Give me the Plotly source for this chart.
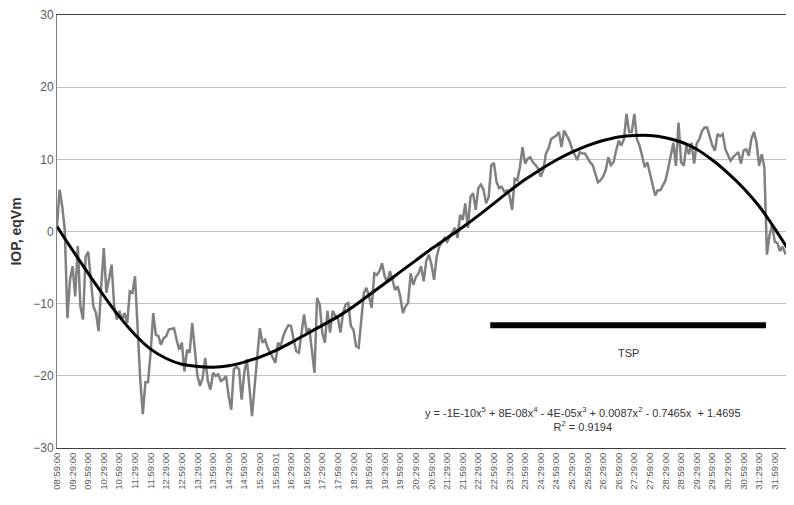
import plotly.graph_objects as go

# ---- data (5‑minute samples, minutes since 08:59:00) ----
iop_values = [
    0.7, 5.8, 3.5, 0.2, -12.0, -6.7, -4.8, -9.0, -2.0, -10.4,
    -12.2, -3.5, -2.8, -6.7, -10.4, -11.3, -13.8, -7.6, -2.3, -8.5,
    -6.7, -4.6, -10.4, -12.2, -11.0, -12.2, -11.3, -12.7, -8.3, -8.5,
    -6.2, -13.6, -20.5, -25.3, -20.9, -20.9, -16.8, -11.3, -14.3, -14.5,
    -15.7, -14.8, -14.5, -13.6, -13.5, -13.4, -15.0, -16.4, -15.4, -19.4,
    -16.4, -16.8, -12.7, -16.8, -20.0, -21.4, -20.3, -17.5, -20.7, -21.9,
    -19.6, -20.0, -19.8, -20.7, -20.5, -20.0, -22.8, -24.7, -19.1, -18.7,
    -19.1, -23.3, -19.6, -17.7, -21.4, -25.6, -21.4, -17.7, -13.4, -15.4,
    -15.0, -16.1, -16.8, -17.7, -18.2, -15.4, -15.9, -14.5, -13.6, -13.0,
    -13.1, -15.0, -16.6, -16.8, -14.0, -11.5, -14.0, -13.4, -16.4, -19.6,
    -9.2, -10.1, -14.0, -15.4, -11.0, -14.0, -11.0, -11.7, -12.0, -14.0,
    -11.3, -10.1, -9.9, -13.1, -13.6, -15.9, -16.1, -12.7, -8.5, -7.8,
    -9.0, -10.6, -5.8, -6.0, -5.5, -4.4, -6.2, -7.1, -5.5, -6.7,
    -8.1, -7.6, -9.0, -11.3, -10.4, -9.9, -5.8, -7.4, -6.3, -5.8,
    -4.8, -6.9, -4.1, -3.2, -4.6, -6.7, -3.5, -2.1, -1.4, -0.9,
    -1.4, -0.7, -0.2, 0.5, -0.9, 2.3, 1.6, 3.9, 0.5, 4.8,
    5.3, 3.0, 6.0, 6.5, 5.8, 3.9, 4.8, 9.2, 9.5, 6.9,
    6.0, 6.2, 5.5, 5.7, 5.0, 3.0, 7.3, 7.1, 8.9, 11.7,
    9.4, 10.1, 10.3, 9.6, 9.2, 8.7, 7.6, 8.5, 10.8, 11.5,
    12.8, 13.1, 13.3, 13.8, 11.7, 14.0, 13.3, 12.6, 11.5, 10.6,
    9.9, 11.0, 10.8, 10.8, 10.1, 9.6, 9.2, 7.8, 6.8, 7.1,
    7.6, 8.5, 10.3, 9.2, 9.6, 11.2, 12.6, 11.9, 12.8, 16.3,
    13.8, 13.8, 16.3, 12.8, 11.9, 10.5, 8.9, 9.6, 8.2, 6.6,
    5.0, 5.7, 5.7, 6.4, 7.1, 8.7, 10.5, 12.3, 9.1, 15.1,
    9.6, 9.1, 11.9, 10.7, 12.3, 9.4, 12.2, 12.8, 13.9, 14.4,
    14.4, 13.2, 11.9, 11.2, 13.5, 13.2, 13.5, 11.4, 10.5, 9.8,
    10.3, 10.7, 11.0, 9.4, 11.2, 11.4, 10.5, 12.8, 13.8, 12.3,
    9.1, 10.7, 8.9, -3.2, -0.5, 0.9, -1.4, -1.6, -2.7, -2.1,
    -3.0, -2.7, -6.4, -8.7, -9.6,
]
sample_step_min = 5
iop_minutes = [i * sample_step_min for i in range(len(iop_values))]

tick_labels = [
    "08:59:00", "09:29:00", "09:59:00", "10:29:00", "10:59:00", "11:29:00",
    "11:59:00", "12:29:00", "12:59:00", "13:29:00", "13:59:00", "14:29:00",
    "14:59:00", "15:29:00", "15:59:01", "16:29:00", "16:59:00", "17:29:00",
    "17:59:00", "18:29:00", "18:59:00", "19:29:00", "19:59:00", "20:29:00",
    "20:59:00", "21:29:00", "21:59:00", "22:29:00", "22:59:00", "23:29:00",
    "23:59:00", "24:29:00", "24:59:00", "25:29:00", "25:59:00", "26:29:00",
    "26:59:00", "27:29:00", "27:59:00", "28:29:00", "28:59:00", "29:29:00",
    "29:59:00", "30:29:00", "30:59:00", "31:29:00", "31:59:00", "32:29:00",
]
tick_minutes = [30 * k for k in range(len(tick_labels))]

# polynomial trend line, read at each tick position (+ right edge)
trend_values = [
    0.7, -2.6, -5.8, -8.9, -11.8, -14.3, -16.3, -17.6, -18.4, -18.7,
    -18.8, -18.6, -18.1, -17.4, -16.5, -15.4, -14.2, -13.0, -11.8, -10.4,
    -8.8, -7.2, -5.6, -4.0, -2.4, -0.9, 0.6, 2.2, 3.9, 5.6,
    7.2, 8.6, 9.9, 11.0, 11.9, 12.6, 13.1, 13.3, 13.3, 13.0,
    12.4, 11.4, 9.9, 8.1, 6.0, 3.5, 0.4, -3.0, -3.9,
]
trend_minutes = tick_minutes + [1417]

# TSP period bar
tsp_start_min = 833
tsp_end_min = 1363
tsp_level = -13.0

equation_text = ("y = -1E-10x<sup>5</sup> + 8E-08x<sup>4</sup> - 4E-05x<sup>3</sup> "
                 "+ 0.0087x<sup>2</sup> - 0.7465x  + 1.4695<br>R<sup>2</sup> = 0.9194")

FONT = "Liberation Sans, Arial, sans-serif"

fig = go.Figure()
fig.add_trace(go.Scatter(
    x=iop_minutes, y=iop_values, mode="lines",
    line=dict(color="#808080", width=2.5), showlegend=False, hoverinfo="skip"))
fig.add_trace(go.Scatter(
    x=trend_minutes, y=trend_values, mode="lines",
    line=dict(color="#000000", width=3, shape="spline", smoothing=1.0),
    showlegend=False, hoverinfo="skip"))
fig.add_trace(go.Scatter(
    x=[tsp_start_min, tsp_end_min], y=[tsp_level, tsp_level], mode="lines",
    line=dict(color="#000000", width=6), showlegend=False, hoverinfo="skip"))

fig.add_annotation(x=1098, y=-16.9, text="TSP", showarrow=False,
                   font=dict(family=FONT, size=11, color="#333333"))
fig.add_annotation(x=1011, y=-26.0, text=equation_text, showarrow=False,
                   align="center", font=dict(family=FONT, size=11, color="#333333"))

# the page body has an 8px default margin, so the figure is sized to fit
fig.update_layout(
    width=786, height=497,
    margin=dict(l=49, r=0, t=7, b=57, autoexpand=False),
    paper_bgcolor="white", plot_bgcolor="white",
    font=dict(family=FONT, color="#595959"),
)
fig.update_xaxes(
    range=[0, 1417], tickmode="array", tickvals=tick_minutes, ticktext=tick_labels,
    tickangle=-90, tickfont=dict(size=9.5, color="#595959"),
    showgrid=False, zeroline=False, showline=True, linecolor="#404040",
    linewidth=1, mirror=True, ticks="", automargin=False,
    ticklabeloverflow="allow",
)
fig.update_yaxes(
    range=[-30, 30], dtick=10, tick0=0, showgrid=True, gridcolor="#c0c0c0",
    gridwidth=1, zeroline=False, showline=True, linecolor="#808080",
    tickfont=dict(size=12, color="#595959"), ticks="", automargin=False,
    title=dict(text="<b>IOP, eqVm</b>", font=dict(size=14, color="#333333"), standoff=12),
)

fig.write_html("out.html")
